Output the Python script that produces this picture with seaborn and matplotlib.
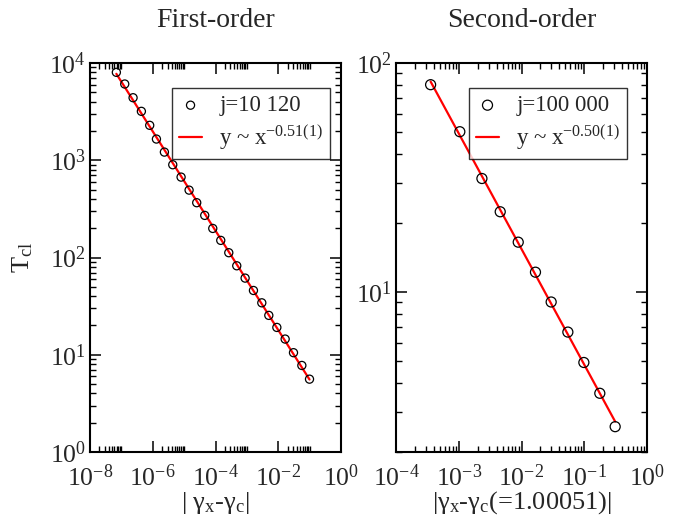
import numpy as np
import pandas as pd
import matplotlib
matplotlib.use("Agg")
import matplotlib.pyplot as plt
import matplotlib.ticker as mticker
import seaborn as sns

# ---------------- data ----------------
first_x = [6.92e-8, 1.28e-7, 2.36e-7, 4.34e-7, 8.00e-7, 1.31e-6, 2.35e-6, 4.34e-6,
           8.00e-6, 1.44e-5, 2.52e-5, 4.54e-5, 8.18e-5, 1.47e-4, 2.65e-4, 4.76e-4,
           8.79e-4, 1.62e-3, 2.99e-3, 5.00e-3, 9.02e-3, 1.66e-2, 3.06e-2, 5.65e-2, 9.91e-2]
first_y = [8017, 6081, 4395, 3184, 2286, 1652, 1213, 899, 671, 493, 366, 271, 199,
           150, 112, 82.2, 61.4, 45.8, 34.2, 25.4, 19.1, 14.5, 10.5, 7.76, 5.61]

second_x = [3.56e-4, 1.04e-3, 2.34e-3, 4.58e-3, 8.87e-3, 1.67e-2, 2.97e-2,
            5.48e-2, 9.86e-2, 0.177, 0.311]
second_y = [80.4, 50.1, 31.3, 22.4, 16.5, 12.2, 9.04, 6.68, 4.92, 3.61, 2.58]

titles = ["First-order", "Second-order"]
data_labels = ["j=10 120", "j=100 000"]
fit_labels = [r"y ~ x$^{\mathrm{-0.51(1)}}$", r"y ~ x$^{\mathrm{-0.50(1)}}$"]
xlabels = [r"| γ$_{\mathrm{x}}$-γ$_{\mathrm{c}}$|", r"|γ$_{\mathrm{x}}$-γ$_{\mathrm{c}}$(=1.00051)|"]
ylabel = r"T$_{\mathrm{cl}}$"

# ---------------- style ----------------
sns.set_theme(style="ticks")
plt.rcParams["font.family"] = ["Liberation Serif", "DejaVu Serif"]
plt.rcParams["mathtext.fontset"] = "custom"
plt.rcParams["mathtext.rm"] = "Liberation Serif"
plt.rcParams["mathtext.it"] = "Liberation Serif:italic"
plt.rcParams["mathtext.bf"] = "Liberation Serif:bold"
plt.rcParams["axes.unicode_minus"] = False

fig = plt.figure(figsize=(6.84, 5.24), dpi=100)
axL = fig.add_axes([90/684, 72/524, 251/684, 389/524])
axR = fig.add_axes([396/684, 72/524, 251/684, 389/524])

def draw(ax, xs, ys, lab, flab, msize):
    df = pd.DataFrame({"x": xs, "y": ys})
    lx, ly = np.log10(df["x"]), np.log10(df["y"])
    slope, icpt = np.polyfit(lx, ly, 1)
    fx = np.array([df["x"].min(), df["x"].max()])
    fit = pd.DataFrame({"x": fx, "y": 10 ** (icpt + slope * np.log10(fx))})
    sns.lineplot(data=fit, x="x", y="y", ax=ax, color="#ff0000", lw=1.6,
                 label=flab, zorder=2)
    sns.scatterplot(data=df, x="x", y="y", ax=ax, marker="o", s=msize,
                    facecolor="none", edgecolor="black", linewidth=0.9,
                    label=lab, zorder=3)
    ax.set_xscale("log")
    ax.set_yscale("log")

draw(axL, first_x, first_y, data_labels[0], fit_labels[0], 34)
draw(axR, second_x, second_y, data_labels[1], fit_labels[1], 52)

# axes limits and ticks
axL.set_xlim(1e-8, 1)
axL.set_ylim(1, 1e4)
axL.xaxis.set_major_locator(mticker.FixedLocator([1e-8, 1e-6, 1e-4, 1e-2, 1]))
axL.xaxis.set_minor_locator(mticker.FixedLocator(
    [k * 10.0 ** m for m in (-8, -6, -4, -2) for k in range(2, 11)]))
axL.yaxis.set_major_locator(mticker.LogLocator(base=10, numticks=10))
axL.yaxis.set_minor_locator(mticker.LogLocator(base=10, subs=np.arange(2, 10), numticks=10))

axR.set_xlim(1e-4, 1)
axR.set_ylim(2, 100)
axR.xaxis.set_major_locator(mticker.LogLocator(base=10, numticks=10))
axR.xaxis.set_minor_locator(mticker.LogLocator(base=10, subs=np.arange(2, 10), numticks=10))
axR.yaxis.set_major_locator(mticker.FixedLocator([10, 100]))
axR.yaxis.set_minor_locator(mticker.FixedLocator(
    [k * 1.0 for k in range(2, 10)] + [k * 10.0 for k in range(2, 10)]))

legend_anchor = [(0.956, 0.935), (0.92, 0.935)]

for ax, t, xl, anc in zip((axL, axR), titles, xlabels, legend_anchor):
    ax.xaxis.set_major_formatter(mticker.LogFormatterMathtext())
    ax.yaxis.set_major_formatter(mticker.LogFormatterMathtext())
    ax.xaxis.set_minor_formatter(mticker.NullFormatter())
    ax.yaxis.set_minor_formatter(mticker.NullFormatter())
    ax.tick_params(which="both", direction="in", top=True, right=True,
                   color="black", labelsize=18.5)
    ax.tick_params(which="major", length=8, width=1.1)
    ax.tick_params(which="minor", length=4, width=1.0)
    ax.tick_params(axis="x", which="major", pad=9)
    ax.tick_params(axis="y", which="major", pad=3)
    for s in ax.spines.values():
        s.set_linewidth(1.5)
        s.set_color("black")
    ax.set_title(t, fontsize=20, pad=26)
    ax.set_xlabel(xl, fontsize=19, labelpad=-1)
    ax.set_ylabel("")
    h, l = ax.get_legend_handles_labels()
    order = [1, 0]
    leg = ax.legend([h[i] for i in order], [l[i] for i in order],
                    loc="upper right", bbox_to_anchor=anc,
                    fontsize=16.5, frameon=True, fancybox=False,
                    handlelength=1.0, handletextpad=0.75, borderpad=0.3,
                    labelspacing=0.3, borderaxespad=0.0)
    leg.get_frame().set_edgecolor("black")
    leg.get_frame().set_linewidth(1.0)

axL.set_ylabel(ylabel, fontsize=19, labelpad=10)

fig.savefig("out.png", dpi=100)
